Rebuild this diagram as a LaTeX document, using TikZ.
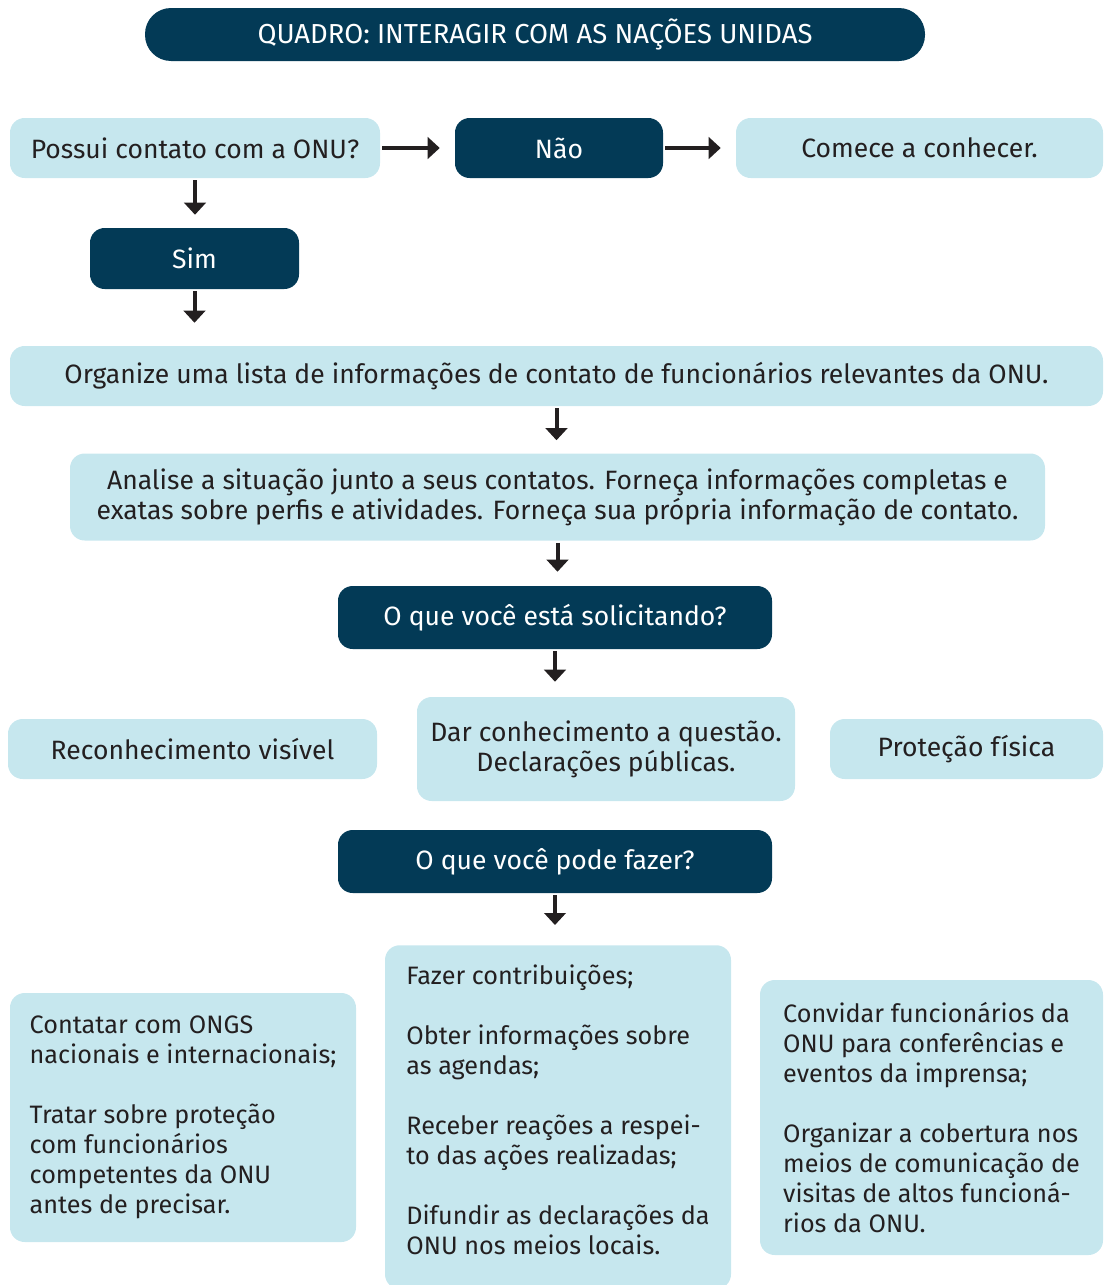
\documentclass[tikz,border=0pt]{standalone}
\usepackage{fontspec}
\setmainfont{Fira Sans}
\usetikzlibrary{arrows.meta}
\definecolor{escuro}{HTML}{033A56}
\definecolor{claro}{HTML}{C6E7EE}
\definecolor{texto}{HTML}{231F20}
\tikzset{
  caixa/.style={fill=claro, text=texto, rounded corners=11pt, inner sep=0pt, align=center},
  chave/.style={fill=escuro, text=white, rounded corners=11pt, inner sep=0pt, align=center},
  lista/.style={caixa, align=left, font=\fontsize{18.9}{22.5}\selectfont},
  flecha/.style={draw=texto, line width=3pt, -{Triangle[length=9pt,width=16pt]}}
}
\begin{document}
\begin{tikzpicture}[x=0.75pt, y=-0.75pt, font=\fontsize{19.9}{22.5}\selectfont]
      \useasboundingbox (0,0) rectangle (1103,1285);
      \node[chave, rounded corners=19.5pt, minimum width=585pt, minimum height=39.75pt, font=\fontsize{20.6}{22.5}\selectfont] (titulo) at (535,34.5) {QUADRO: INTERAGIR COM AS NAÇÕES UNIDAS};
      \node[caixa, minimum width=277.5pt, minimum height=45pt] (possui) at (195,148) {Possui contato com a ONU?};
      \node[chave, minimum width=156pt, minimum height=45pt] (nao) at (559,148) {Não};
      \node[caixa, minimum width=275.25pt, minimum height=45pt] (comece) at (919.5,148) {Comece a conhecer.};
      \node[chave, minimum width=156.75pt, minimum height=45.75pt] (sim) at (194.5,258.5) {Sim};
      \node[caixa, minimum width=819.75pt, minimum height=45pt] (organize) at (556.5,376) {Organize uma lista de informações de contato de funcionários relevantes da ONU.};
      \node[caixa, minimum width=731.25pt, minimum height=65.25pt] (analise) at (557.5,497) {Analise a situação junto a seus contatos. Forneça informações completas e\\exatas sobre perfis e atividades. Forneça sua própria informação de contato.};
      \node[chave, minimum width=325.5pt, minimum height=47.25pt] (solicita) at (555,617.5) {O que você está solicitando?};
      \node[caixa, minimum width=276.75pt, minimum height=45pt] (reconhece) at (192.5,749) {Reconhecimento visível};
      \node[caixa, minimum width=283.5pt, minimum height=78pt] (declara) at (606,749) {Dar conhecimento a questão.\\Declarações públicas.};
      \node[caixa, minimum width=204.75pt, minimum height=45pt] (protege) at (966.5,749) {Proteção física};
      \node[chave, minimum width=325.5pt, minimum height=47.25pt] (fazer) at (555,861.5) {O que você pode fazer?};
      \node[lista, minimum width=259.5pt, minimum height=186.75pt] (ongs) at (183,1117.5) {Contatar com ONGS\\nacionais e internacionais;\\[22.5pt]Tratar sobre proteção\\com funcionários\\competentes da ONU\\antes de precisar.};
      \node[lista, minimum width=259.5pt, anchor=north, inner ysep=15pt, text depth=10.5pt] (agendas) at (558,945) {Fazer contribuições;\\[22.5pt]Obter informações sobre\\as agendas;\\[22.5pt]Receber reações a respei-\\to das ações realizadas;\\[22.5pt]Difundir as declarações da\\ONU nos meios locais.};
      \node[lista, minimum width=257.25pt, minimum height=206.25pt] (imprensa) at (931.5,1117.5) {Convidar funcionários da\\ONU para conferências e\\eventos da imprensa;\\[22.5pt]Organizar a cobertura nos\\meios de comunicação de\\visitas de altos funcioná-\\rios da ONU.};
      % setas
      \foreach \a/\b in {possui/nao, nao/comece}{
        \draw[flecha, shorten <=1.5pt, shorten >=11.25pt](\a)--(\b);
      }
      \foreach \a/\b/\s in {possui/sim/9.75pt, sim/organize/17.25pt, organize/analise/9.75pt, analise/solicita/10.5pt, solicita/declara/11.25pt, fazer/agendas/15pt}{
        \draw[flecha, shorten <=1.5pt, shorten >=\s](\a)--(\a |- \b.north);
      }
    \end{tikzpicture}
\end{document}
